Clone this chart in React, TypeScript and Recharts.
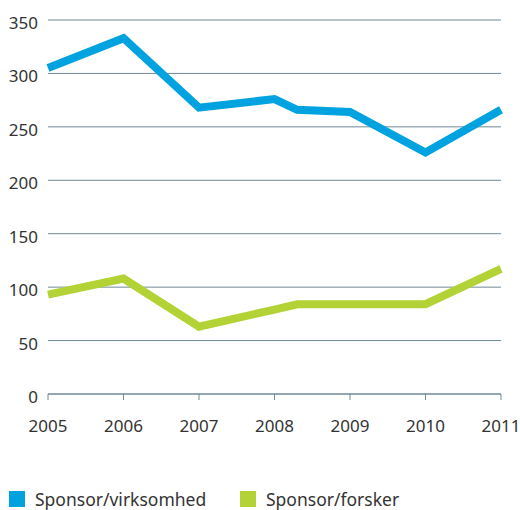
import React from "react";
import { LineChart, Line, XAxis, YAxis, CartesianGrid, Legend } from "recharts";

const years = [2005, 2006, 2007, 2008, 2008.3, 2009, 2010, 2011];
const virksomhed = [305, 333, 268, 276, 266, 264, 226, 266];
const forsker = [93, 108, 63, 79, 84, 84, 84, 117];
const xTicks = [2005, 2006, 2007, 2008, 2009, 2010, 2011];
const yTicks = [0, 50, 100, 150, 200, 250, 300, 350];
const seriesNames = ["Sponsor/virksomhed", "Sponsor/forsker"];

const BLUE = "#00a3e0";
const GREEN = "#b2d235";
const GRID = "#6f8998";
const FONT = "'Noto Sans', sans-serif";

const data = years.map((y, i) => ({ year: y, v: virksomhed[i], f: forsker[i] }));

const LegendContent = () => (
  <div style={{ position: "relative", width: 520, height: 76, fontFamily: FONT }}>
    {[BLUE, GREEN].map((c, i) => (
      <div key={i} style={{ position: "absolute", left: i === 0 ? 9 : 240, top: 57, display: "flex", alignItems: "center" }}>
        <div style={{ width: 16, height: 16, background: c }} />
        <span style={{ marginLeft: 10, fontSize: 17.5, color: "#333", lineHeight: "16px" }}>{seriesNames[i]}</span>
      </div>
    ))}
  </div>
);

export default function App() {
  return (
    <div style={{ position: "absolute", left: 0, top: 0 }}>
      <LineChart width={520} height={510} data={data} margin={{ top: 20, right: 19, left: 0, bottom: 0 }}>
        <CartesianGrid horizontal vertical={false} stroke={GRID} strokeWidth={1} />
        <XAxis
          dataKey="year"
          type="number"
          domain={[2005, 2011]}
          ticks={xTicks}
          height={40}
          stroke={GRID}
          tickSize={6}
          tickMargin={20}
          tick={{ fill: "#333", fontSize: 17, fontFamily: FONT }}
          interval={0}
        />
        <YAxis
          domain={[0, 350]}
          ticks={yTicks}
          width={48}
          axisLine={false}
          tickLine={false}
          tickMargin={4}
          tick={{ fill: "#333", fontSize: 17, fontFamily: FONT, dy: 3 }}
          interval={0}
        />
        <Legend verticalAlign="bottom" content={<LegendContent />} wrapperStyle={{ left: 0, bottom: 0, width: 520 }} />
        <Line dataKey="v" stroke={BLUE} strokeWidth={8} dot={false} isAnimationActive={false} strokeLinejoin="miter" strokeLinecap="butt" />
        <Line dataKey="f" stroke={GREEN} strokeWidth={8} dot={false} isAnimationActive={false} strokeLinejoin="miter" strokeLinecap="butt" />
      </LineChart>
    </div>
  );
}
